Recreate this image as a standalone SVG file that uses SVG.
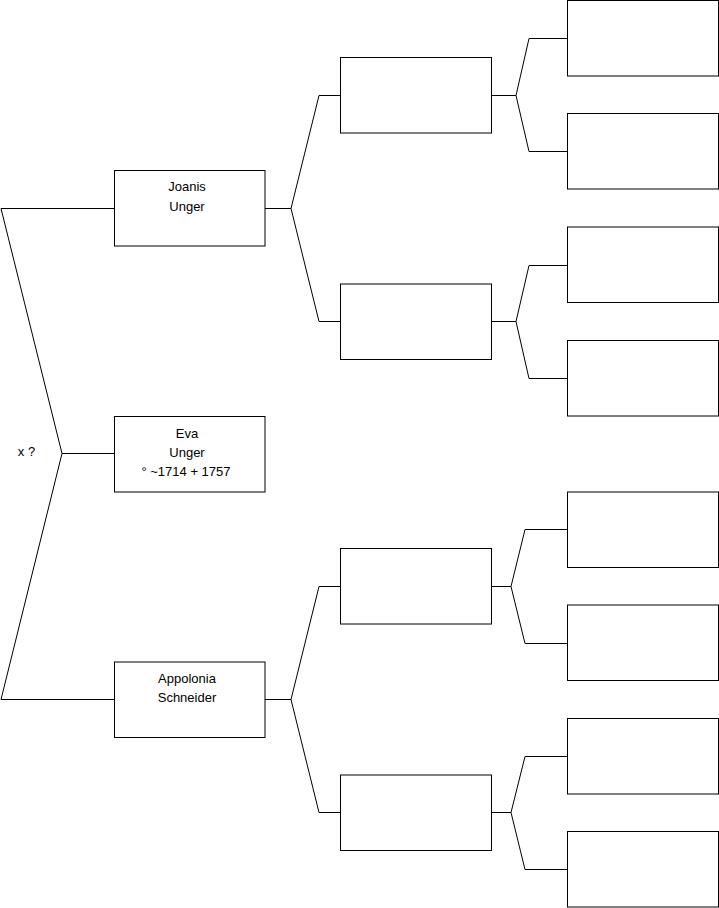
<svg xmlns="http://www.w3.org/2000/svg" width="719" height="908" viewBox="0 0 719 908">
<style>
.box{fill:#fff;stroke:#000;stroke-width:1}
.ln{fill:none;stroke:#000;stroke-width:1}
text{font-family:"Liberation Sans",Arial,sans-serif;font-size:13px;fill:#000;text-anchor:middle}
</style>
<rect width="719" height="908" fill="#fff"/>
<g id="connectors">
<polyline class="ln" points="114,208.5 1,208.5 62,453.5 1,699.5 114,699.5"/>
<line class="ln" x1="62" y1="453.5" x2="114" y2="453.5"/>
<polyline class="ln" points="341,95.5 319,95.5 291,208.5 319,321.5 341,321.5"/>
<line class="ln" x1="265" y1="208.5" x2="291" y2="208.5"/>
<polyline class="ln" points="341,586.5 319,586.5 291,699.5 319,812.5 341,812.5"/>
<line class="ln" x1="265" y1="699.5" x2="291" y2="699.5"/>
<polyline class="ln" points="567,38.5 529,38.5 516,95.5 529,151.5 567,151.5"/>
<line class="ln" x1="491" y1="95.5" x2="516" y2="95.5"/>
<polyline class="ln" points="567,265.5 529,265.5 516,321.5 529,378.5 567,378.5"/>
<line class="ln" x1="491" y1="321.5" x2="516" y2="321.5"/>
<polyline class="ln" points="567,529.5 525,529.5 511,586.5 525,643.5 567,643.5"/>
<line class="ln" x1="491" y1="586.5" x2="511" y2="586.5"/>
<polyline class="ln" points="567,756.5 525,756.5 511,812.5 525,869.5 567,869.5"/>
<line class="ln" x1="491" y1="812.5" x2="511" y2="812.5"/>
</g>
<g id="marriage"><text x="26.5" y="456">x ?</text></g>
<g id="joanis"><rect class="box" x="114.5" y="170.5" width="150.5" height="75.5"/><text x="187" y="191">Joanis</text><text x="187" y="211">Unger</text></g>
<g id="eva"><rect class="box" x="114.5" y="416.5" width="150.5" height="75.5"/><text x="187" y="438">Eva</text><text x="187" y="457">Unger</text><text x="186" y="476">° ~1714 + 1757</text></g>
<g id="appolonia"><rect class="box" x="114.5" y="662" width="150.5" height="75.5"/><text x="187" y="683">Appolonia</text><text x="187" y="702">Schneider</text></g>
<g id="p1"><rect class="box" x="340.5" y="57.5" width="151" height="75.5"/></g>
<g id="p2"><rect class="box" x="340.5" y="284" width="151" height="75.5"/></g>
<g id="p3"><rect class="box" x="340.5" y="548.5" width="151" height="75.5"/></g>
<g id="p4"><rect class="box" x="340.5" y="775" width="151" height="75.5"/></g>
<g id="g1"><rect class="box" x="567.5" y="0.5" width="151" height="75.5"/></g>
<g id="g2"><rect class="box" x="567.5" y="113.5" width="151" height="75.5"/></g>
<g id="g3"><rect class="box" x="567.5" y="227" width="151" height="75.5"/></g>
<g id="g4"><rect class="box" x="567.5" y="340.5" width="151" height="75.5"/></g>
<g id="g5"><rect class="box" x="567.5" y="492" width="151" height="75.5"/></g>
<g id="g6"><rect class="box" x="567.5" y="605" width="151" height="75.5"/></g>
<g id="g7"><rect class="box" x="567.5" y="718.5" width="151" height="75.5"/></g>
<g id="g8"><rect class="box" x="567.5" y="831.5" width="151" height="75.5"/></g>
</svg>
